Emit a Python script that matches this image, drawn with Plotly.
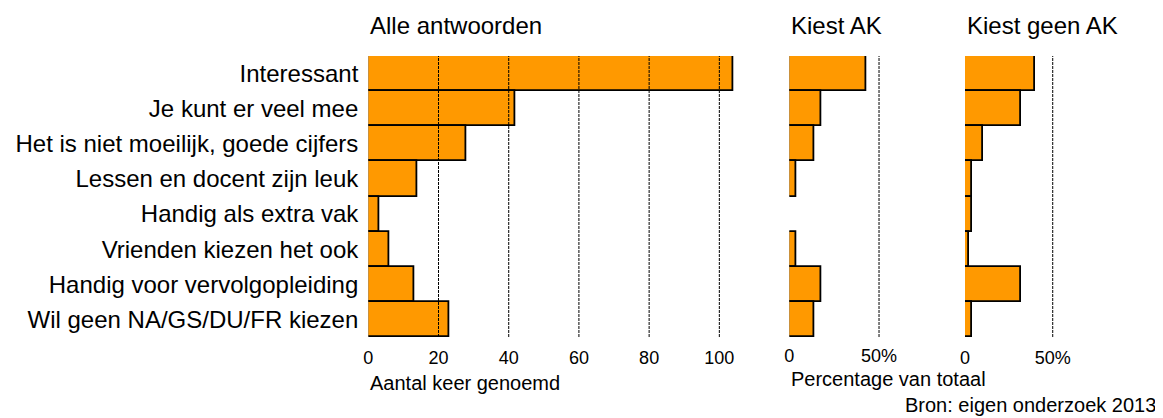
import plotly.graph_objects as go

categories = [
    "Interessant",
    "Je kunt er veel mee",
    "Het is niet moeilijk, goede cijfers",
    "Lessen en docent zijn leuk",
    "Handig als extra vak",
    "Vrienden kiezen het ook",
    "Handig voor vervolgopleiding",
    "Wil geen NA/GS/DU/FR kiezen",
]
alle_antwoorden = [104, 42, 28, 14, 3, 6, 13, 23]
kiest_ak_pct = [43, 18, 14, 4, 0, 4, 18, 14]
kiest_geen_ak_pct = [40, 32, 10, 4, 4, 2, 32, 4]

main_ticks = [0, 20, 40, 60, 80, 100]
main_grid = [20, 40, 60, 80, 100]
pct_ticks = [0, 50]
pct_tick_text = ["0", "50%"]
pct_grid = [50]

panel_titles = ["Alle antwoorden", "Kiest AK", "Kiest geen AK"]
xlabel_main = "Aantal keer genoemd"
xlabel_pct = "Percentage van totaal"
source = "Bron: eigen onderzoek 2013"

# page body has an 8px margin; size the figure so it fits the 1163x418 window
OFF = 8
W, H = 1163 - OFF, 418 - OFF
FONT = "Liberation Sans, Arial, Helvetica, sans-serif"
ORANGE = "#FF9900"

def px_x(p):
    return (p - OFF) / W

def px_y(p):
    return 1 - (p - OFF) / H

ydom = [px_y(337), px_y(56)]

fig = go.Figure()

def clean(vals):
    return [v if v > 0 else None for v in vals]

series = [(alle_antwoorden, "x", "y"), (kiest_ak_pct, "x2", "y2"), (kiest_geen_ak_pct, "x3", "y3")]
for vals, xa, ya in series:
    fig.add_trace(go.Bar(
        y=categories, x=clean(vals), orientation="h",
        xaxis=xa, yaxis=ya,
        marker=dict(color=ORANGE, line=dict(color="black", width=1.8)),
        showlegend=False, hoverinfo="x+y",
    ))

yaxis_common = dict(
    domain=ydom, type="category", categoryorder="array", categoryarray=categories,
    range=[7.5, -0.5], showgrid=False, zeroline=False, showline=False, ticks="",
    automargin=False, fixedrange=True,
)

xaxis_common = dict(showgrid=False, zeroline=False, showline=False, ticks="",
                    tickfont=dict(size=18), automargin=False)

fig.update_layout(
    width=W, height=H,
    margin=dict(l=0, r=0, t=0, b=0),
    paper_bgcolor="white", plot_bgcolor="white",
    bargap=0,
    font=dict(family=FONT, color="black"),
    xaxis=dict(**xaxis_common, domain=[px_x(368.3), px_x(740.4)], range=[0, 106],
               tickvals=main_ticks, anchor="y", ticklabelstandoff=8),
    xaxis2=dict(**xaxis_common, domain=[px_x(789.3), px_x(888.0)], range=[0, 55],
                tickvals=pct_ticks, ticktext=pct_tick_text, anchor="y2", ticklabelstandoff=6),
    xaxis3=dict(**xaxis_common, domain=[px_x(965.0), px_x(1061.5)], range=[0, 55],
                tickvals=pct_ticks, ticktext=pct_tick_text, anchor="y3", ticklabelstandoff=8),
    yaxis=dict(**yaxis_common, anchor="x", showticklabels=True,
               tickfont=dict(size=24), ticklabelstandoff=9),
    yaxis2=dict(**yaxis_common, anchor="x2", showticklabels=False),
    yaxis3=dict(**yaxis_common, anchor="x3", showticklabels=False),
)

shapes = []
for xref, yref, grid in [("x", "y domain", main_grid), ("x2", "y2 domain", pct_grid), ("x3", "y3 domain", pct_grid)]:
    for g in grid:
        shapes.append(dict(type="line", xref=xref, yref=yref, x0=g, x1=g, y0=0, y1=1,
                           line=dict(color="black", width=1, dash="3px,1px"), layer="above"))
fig.update_layout(shapes=shapes)

annotations = []
for title, xr in zip(panel_titles, ["x domain", "x2 domain", "x3 domain"]):
    annotations.append(dict(text=title, xref=xr, yref="paper", x=0, y=px_y(25),
                            xanchor="left", yanchor="middle", showarrow=False,
                            font=dict(size=24)))
annotations.append(dict(text=xlabel_main, xref="x domain", yref="paper", x=0, y=px_y(383),
                        xanchor="left", yanchor="middle", showarrow=False, font=dict(size=20)))
annotations.append(dict(text=xlabel_pct, xref="x2 domain", yref="paper", x=0, y=px_y(379),
                        xanchor="left", yanchor="middle", showarrow=False, font=dict(size=20)))
annotations.append(dict(text=source, xref="paper", yref="paper", x=px_x(1158), y=px_y(405),
                        xanchor="right", yanchor="middle", showarrow=False, font=dict(size=20)))
fig.update_layout(annotations=annotations)

fig.write_html("out.html")
